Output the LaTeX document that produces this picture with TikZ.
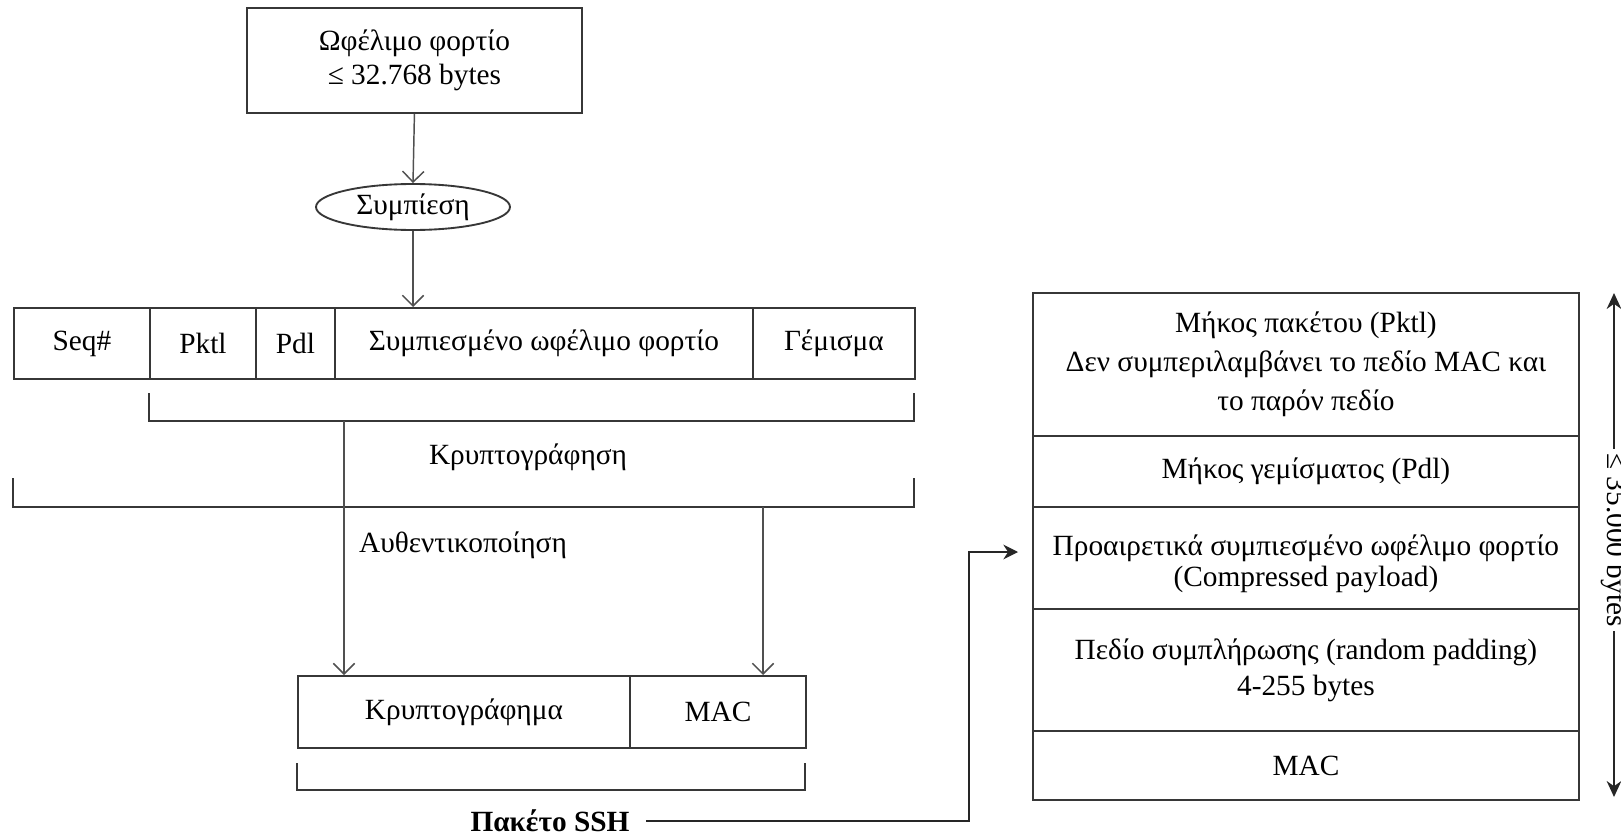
\documentclass[tikz,border=0pt]{standalone}
\usepackage{fontspec}
\setmainfont{Liberation Serif}
\usetikzlibrary{arrows.meta,shapes.geometric}
\newlength\pxl
\setlength\pxl{0.75pt}
\definecolor{linec}{RGB}{55,55,55}
\definecolor{arrc}{RGB}{80,80,80}
\begin{document}
\begin{tikzpicture}[x=0.75pt,y=-0.75pt,
  txt/.style={font=\fontsize{22}{27}\selectfont, text=black},
  cell/.style={txt, draw=linec, line width=1.4pt, inner sep=0pt, anchor=north west, align=center},
  barb/.style={draw=arrc, line width=1.1pt, -{Straight Barb[length=8pt,width=16pt]}},
  solidarr/.style={draw=black!85, line width=1.1pt, -{Stealth[length=11pt,width=11pt]}},
  dimarr/.style={draw=black!85, line width=1.1pt, {Stealth[length=12pt,width=11pt]}-{Stealth[length=12pt,width=11pt]}},
  bracketline/.style={draw=linec, line width=1.4pt},
]
\useasboundingbox (0,0) rectangle (1621,835);
\fill[white] (0,0) rectangle (1621,835);

% payload and compression
\node[cell, minimum width=335\pxl, minimum height=105\pxl, font=\fontsize{22}{26}\selectfont] (payload) at (246,7) {Ωφέλιμο φορτίο\\≤ 32.768 bytes};
\node[txt, ellipse, draw=linec, line width=1.4pt, minimum width=194\pxl, minimum height=46\pxl, inner sep=0pt] (comp) at (413,207) {Συμπίεση};

% packet fields before encryption
\node[cell, minimum width=136\pxl, minimum height=71\pxl] (seq)  at (13,307)  {Seq\#};
\node[cell, minimum width=106\pxl, minimum height=71\pxl] (pktl) at (149,307) {Pktl};
\node[cell, minimum width=79\pxl,  minimum height=71\pxl] (pdl)  at (255,307) {Pdl};
\node[cell, minimum width=418\pxl, minimum height=71\pxl] (cpay) at (334,307) {Συμπιεσμένο ωφέλιμο φορτίο};
\node[cell, minimum width=162\pxl, minimum height=71\pxl] (padf) at (752,307) {Γέμισμα};

% encryption and authentication ranges
\draw[bracketline] (149,393) -- (149,421) -- (914,421) -- (914,393);
\node[txt] (enclbl) at (528,457) {Κρυπτογράφηση};
\draw[bracketline] (13,478) -- (13,507) -- (914,507) -- (914,478);
\node[txt] (authlbl) at (463,545) {Αυθεντικοποίηση};
\coordinate (enc) at (344,421);
\coordinate (auth) at (763,507);

% resulting SSH packet
\node[cell, minimum width=332\pxl, minimum height=72\pxl] (cipher) at (297,675) {Κρυπτογράφημα};
\node[cell, minimum width=176\pxl, minimum height=72\pxl] (mac) at (629,675) {MAC};
\draw[bracketline] (297,763) -- (297,790) -- (805,790) -- (805,763);
\node[txt, font=\fontsize{22}{27}\selectfont\bfseries] (pkt) at (550,821) {Πακέτο SSH};

% packet layout
\node[cell, minimum width=546\pxl, minimum height=143\pxl, font=\fontsize{22}{29}\selectfont] (r1) at (1032,292) {Μήκος πακέτου (Pktl)\\Δεν συμπεριλαμβάνει το πεδίο MAC και\\το παρόν πεδίο};
\node[cell, minimum width=546\pxl, minimum height=71\pxl] (r2) at (1032,435) {Μήκος γεμίσματος (Pdl)};
\node[cell, minimum width=546\pxl, minimum height=102\pxl] (r3) at (1032,506) {};
\node[txt, align=center, font=\fontsize{22}{23}\selectfont] (r3txt) at ([yshift=-6\pxl]r3.center) {Προαιρετικά συμπιεσμένο ωφέλιμο φορτίο\\(Compressed payload)};
\node[cell, minimum width=546\pxl, minimum height=122\pxl] (r4) at (1032,608) {Πεδίο συμπλήρωσης (random padding)\\4-255 bytes};
\node[cell, minimum width=546\pxl, minimum height=69\pxl] (r5) at (1032,730) {MAC};

% connectors
\draw[barb] (payload.south) -- (comp.north);
\draw[barb] (comp.south) -- (comp.south |- cpay.north);
\draw[barb] (enc) -- (enc |- cipher.north);
\draw[barb] (auth) -- (auth |- mac.north);
\coordinate (turn) at (969,552);
\draw[solidarr, shorten >=14\pxl] ([xshift=12\pxl]pkt.east) -- (turn |- pkt.east) -- (turn) -- (turn -| r3.west);

% total size
\coordinate (stop) at (1614,293);
\coordinate (sbot) at (1614,797);
\draw[dimarr] (stop) -- (sbot);
\node[txt, fill=white, rotate=-90, inner sep=3pt] (sizelbl) at (1614,540) {≤ 35.000 bytes};
\end{tikzpicture}
\end{document}
